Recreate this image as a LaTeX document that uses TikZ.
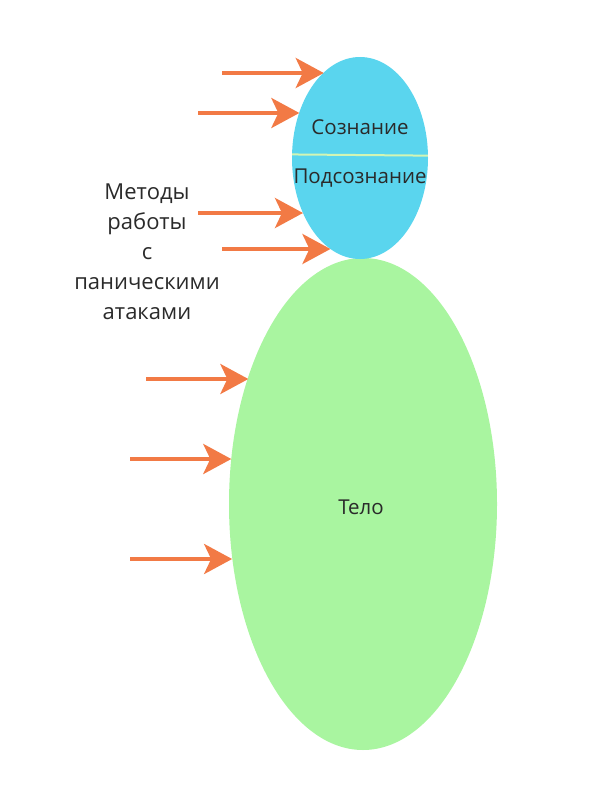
\documentclass[tikz,border=0pt]{standalone}
\usepackage{fontspec}
\setmainfont{Open Sans}
\usetikzlibrary{shapes.geometric, arrows.meta}
\definecolor{psycheblue}{HTML}{5AD5EE}
\definecolor{bodygreen}{HTML}{A9F5A0}
\definecolor{arroworange}{HTML}{F27A45}
\definecolor{inktext}{HTML}{2A2A2A}
\definecolor{divline}{HTML}{D2F5B4}

\begin{document}
\begin{tikzpicture}[x=1pt, y=-1pt,
    blob/.style={ellipse, inner sep=0pt, outer sep=0pt},
    lbl/.style={text=inktext, font=\fontsize{20.5}{24}\selectfont},
    arr/.style={arroworange, line width=4pt, -{Stealth[length=28pt, width=30pt, inset=7pt]}}]
        \useasboundingbox (0,0) rectangle (600,800);
        \node[blob, fill=bodygreen, minimum width=268pt, minimum height=492pt] (body) at (363,504) {};
        \node[blob, fill=psycheblue, minimum width=136pt, minimum height=202pt] (psyche) at (360,158) {};
        \draw[divline, line width=2pt] (psyche.177.5) -- (psyche.2.5);
        \node[lbl] (conscious) at (360,127) {Сознание};
        \node[lbl] (subconscious) at (360,178) {Подсознание};
        \node[lbl] (bodytext) at (361,507) {Тело};
        \node[text=inktext, align=center, font=\fontsize{22}{30}\selectfont] (methods) at (147,252)
            {Методы\\работы\\с\\паническими\\атаками};
        \coordinate (m1) at (222,73); \coordinate (m2) at (198,113);
        \coordinate (m3) at (198,213); \coordinate (m4) at (222,249);
        \coordinate (m5) at (146,379); \coordinate (m6) at (130,459);
        \coordinate (m7) at (130,559);
        \foreach \s/\t in {m1/psyche.113.4, m2/psyche.143.5, m3/psyche.224, m4/psyche.252,
                           m5/body.132.7, m6/body.161.1, m7/body.202.8}
            \draw[arr] (\s) -- (\s -| \t);
    \end{tikzpicture}
\end{document}
